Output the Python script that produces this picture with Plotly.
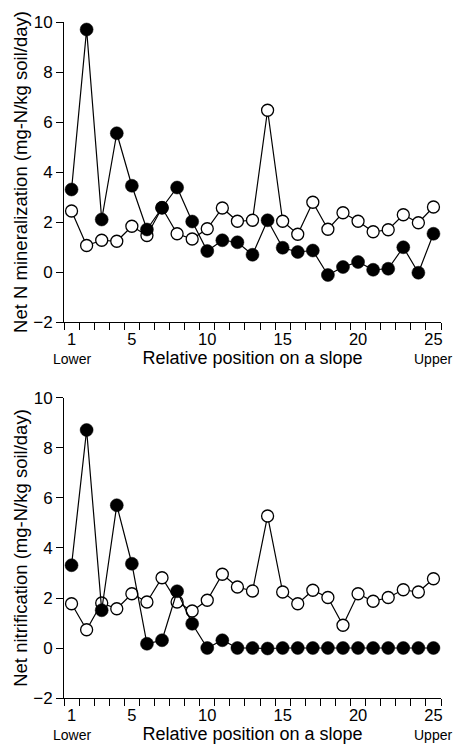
import plotly.graph_objects as go

positions = list(range(1, 26))
tick_positions = [1, 5, 10, 15, 20, 25]
tick_labels = ["1", "5", "10", "15", "20", "25"]

min_filled = [3.3, 9.7, 2.1, 5.55, 3.45, 1.7, 2.57, 3.38, 2.02, 0.84, 1.27, 1.19, 0.69,
              2.07, 0.97, 0.8, 0.86, -0.12, 0.2, 0.4, 0.09, 0.13, 0.99, -0.03, 1.53]
min_open = [2.44, 1.06, 1.27, 1.23, 1.83, 1.46, 2.57, 1.53, 1.32, 1.73, 2.56, 2.03, 2.07,
            6.47, 2.03, 1.51, 2.79, 1.71, 2.37, 2.03, 1.61, 1.69, 2.29, 1.97, 2.6]
nit_filled = [3.31, 8.72, 1.51, 5.71, 3.37, 0.17, 0.31, 2.27, 0.97, 0.0, 0.31, 0.0, 0.0,
              -0.02, 0.0, 0.0, 0.0, 0.0, 0.0, 0.0, 0.0, 0.0, 0.0, 0.0, 0.0]
nit_open = [1.77, 0.73, 1.8, 1.57, 2.17, 1.84, 2.81, 1.84, 1.48, 1.91, 2.95, 2.44, 2.28,
            5.28, 2.24, 1.77, 2.31, 2.02, 0.91, 2.17, 1.87, 2.02, 2.33, 2.24, 2.77]

y_title_top = "Net N mineralization (mg-N/kg soil/day)"
y_title_bot = "Net nitrification (mg-N/kg soil/day)"
x_title = "Relative position on a slope"

FONT = "Liberation Sans, Arial, Helvetica, sans-serif"

fig = go.Figure()


def add_pair(open_vals, filled_vals, xa, ya):
    fig.add_trace(go.Scatter(
        x=positions, y=open_vals, mode="lines+markers", xaxis=xa, yaxis=ya,
        line=dict(color="black", width=1.2),
        marker=dict(symbol="circle", size=12, color="white",
                    line=dict(color="black", width=1.3)),
        showlegend=False, cliponaxis=False))
    fig.add_trace(go.Scatter(
        x=positions, y=filled_vals, mode="lines+markers", xaxis=xa, yaxis=ya,
        line=dict(color="black", width=1.2),
        marker=dict(symbol="circle", size=13, color="black",
                    line=dict(color="black", width=0.5)),
        showlegend=False, cliponaxis=False))


add_pair(min_open, min_filled, "x", "y")
add_pair(nit_open, nit_filled, "x2", "y2")

xaxis_common = dict(
    range=[0.5, 25.5], showline=True, linecolor="black", linewidth=1,
    showgrid=False, zeroline=False, automargin=False,
    tickmode="array", tickvals=tick_positions, ticktext=tick_labels,
    ticks="outside", ticklen=2, tickcolor="rgba(0,0,0,0)",
    tickfont=dict(family=FONT, size=16.5, color="black"),
    minor=dict(tick0=0.5, dtick=1, ticks="outside", ticklen=7,
               tickwidth=1, tickcolor="black", showgrid=False),
    title=dict(text=x_title, font=dict(family=FONT, size=18, color="black"),
               standoff=3),
)
yaxis_common = dict(
    range=[-2, 10], showline=True, linecolor="black", linewidth=1,
    showgrid=False, zeroline=False, automargin=False,
    tickmode="array", tickvals=[-2, 0, 2, 4, 6, 8, 10],
    ticks="outside", ticklen=7, tickwidth=1, tickcolor="black",
    tickfont=dict(family=FONT, size=17, color="black"),
)

fig.update_layout(
    template="none",
    width=453, height=744,
    margin=dict(l=64, r=12, t=22, b=46),
    paper_bgcolor="white", plot_bgcolor="white",
    font=dict(family=FONT, color="black"),
    xaxis=dict(**xaxis_common, domain=[0, 1], anchor="y"),
    yaxis=dict(**yaxis_common, domain=[0.5562, 1], anchor="x",
               title=dict(text=y_title_top,
                          font=dict(family=FONT, size=18.5, color="black"),
                          standoff=0)),
    xaxis2=dict(**xaxis_common, domain=[0, 1], anchor="y2"),
    yaxis2=dict(**yaxis_common, domain=[0, 0.4438], anchor="x2",
                title=dict(text=y_title_bot,
                           font=dict(family=FONT, size=18.5, color="black"),
                           standoff=0)),
)

for xr, yr in (("x", "y domain"), ("x2", "y2 domain")):
    fig.add_annotation(x=1, y=0, xref=xr, yref=yr, text="Lower", showarrow=False,
                       yanchor="top", xanchor="center", yshift=-27,
                       font=dict(family=FONT, size=14, color="black"))
    fig.add_annotation(x=25, y=0, xref=xr, yref=yr, text="Upper", showarrow=False,
                       yanchor="top", xanchor="center", yshift=-27,
                       font=dict(family=FONT, size=14, color="black"))

fig.write_html(
    "out.html",
    config={"displayModeBar": False},
    post_script="document.body.style.margin='0';document.body.style.overflow='hidden';",
)
